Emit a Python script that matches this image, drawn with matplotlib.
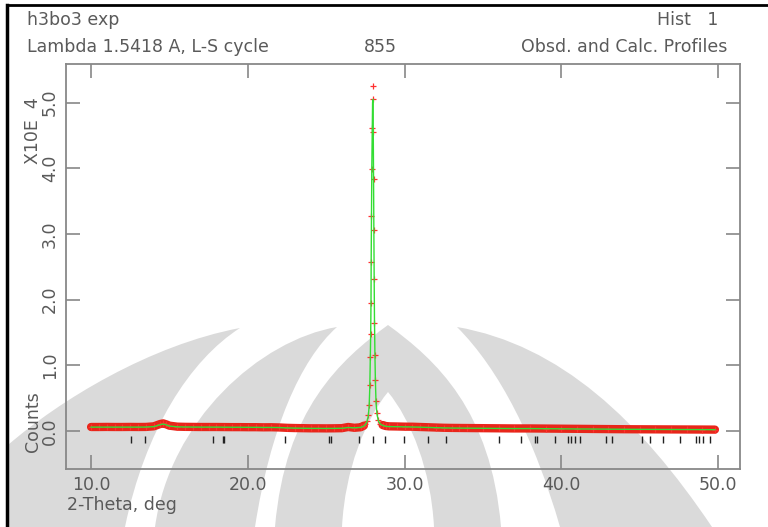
import numpy as np
import matplotlib
matplotlib.use("Agg")
import matplotlib.pyplot as plt
from matplotlib.path import Path
from matplotlib.patches import PathPatch

# observed profile, 2-theta (deg) and counts
two_theta = [10.0, 10.5, 11.0, 11.5, 12.0, 12.5, 13.0, 13.5, 14.0, 14.4, 14.6, 14.8,
             15.0, 15.5, 16.0, 16.5, 17.0, 17.5, 18.0, 18.5, 19.0, 19.5, 20.0, 20.5,
             21.0, 21.5, 22.0, 22.5, 23.0, 23.5, 24.0, 24.5, 25.0, 25.5, 26.0, 26.4,
             26.8, 27.2, 27.40, 27.50, 27.60, 27.68, 27.74, 27.78, 27.81, 27.84, 27.86,
             27.87, 27.89, 27.91, 27.94, 27.96, 27.98, 28.00, 28.02, 28.04, 28.06, 28.08,
             28.11, 28.14, 28.18, 28.24, 28.32, 28.45, 28.60, 28.80, 29.0, 29.5, 30.0,
             30.5, 31.0, 31.5, 32.0, 32.5, 33.0, 33.5, 34.0, 35.0, 36.0, 37.0, 38.0,
             39.0, 40.0, 41.0, 42.0, 43.0, 44.0, 45.0, 46.0, 47.0, 48.0, 49.0, 49.8]
obs_counts = [600, 600, 610, 600, 600, 610, 600, 610, 700, 1050, 1150, 1000,
              800, 650, 620, 610, 600, 600, 600, 590, 580, 580, 570, 570,
              550, 560, 530, 470, 440, 420, 400, 400, 390, 400, 420, 600,
              480, 560, 800, 1000, 1500, 2400, 4000, 7000, 11300, 14800, 19500,
              25800, 32700, 39900, 46100, 52500, 50500, 45600, 38400, 30600, 23200, 16500,
              11500, 7700, 4500, 2800, 1700, 1100, 900, 750, 700, 680, 650,
              640, 600, 560, 520, 480, 460, 450, 440, 420, 400, 380, 380,
              360, 340, 320, 300, 280, 260, 250, 240, 230, 220, 210, 200]
calc_counts = [580, 580, 580, 580, 580, 580, 580, 590, 650, 950, 1050, 920,
               740, 620, 600, 590, 580, 580, 580, 570, 560, 560, 550, 550,
               530, 530, 510, 460, 430, 410, 390, 390, 380, 390, 410, 520,
               470, 540, 750, 950, 1400, 2200, 3700, 6500, 10500, 15000, 20000,
               26000, 33000, 40000, 46000, 50000, 50500, 46500, 39000, 31000, 23500, 17000,
               11500, 7500, 4300, 2600, 1600, 1050, 850, 700, 660, 640, 620,
               600, 570, 530, 500, 460, 440, 430, 420, 400, 380, 360, 360,
               340, 320, 300, 290, 270, 250, 240, 230, 220, 210, 200, 190]
# reflection positions (tick marks under the profile)
refl_pos = [12.55, 13.43, 17.76, 18.40, 18.47, 22.38, 25.20, 25.30, 27.12, 28.01,
            28.76, 29.97, 31.48, 32.65, 36.03, 37.41, 38.33, 38.43, 39.60, 40.45,
            40.62, 40.88, 41.20, 42.85, 43.24, 45.15, 45.66, 46.51, 47.57, 48.60,
            48.81, 49.06, 49.49]
x_ticks = [10, 20, 30, 40, 50]
y_ticks = [0, 1, 2, 3, 4, 5]

tt = np.array(two_theta)
obs = np.array(obs_counts) / 1e4
calc = np.array(calc_counts) / 1e4
# noisy band look only off the main peak
band = np.where((tt > 27.45) & (tt < 28.5), np.nan, obs)

grey = "#5a5a5a"
plt.rcParams["font.family"] = "DejaVu Sans"
fig = plt.figure(figsize=(7.68, 5.27), dpi=100)

# faint logo watermark behind the plot, pixel coords (y from top)
W, H = 768, 527
M, L, C = Path.MOVETO, Path.LINETO, Path.CURVE4


def blob(verts, codes, color):
    v = [(x / W, 1 - y / H) for x, y in verts]
    fig.add_artist(PathPatch(Path(v, codes), transform=fig.transFigure,
                             facecolor=color, edgecolor="none", zorder=-5))


wing = [(240, 328), (150, 345), (60, 400), (8, 445), (8, 527), (125, 527),
        (145, 430), (190, 360), (240, 328)]
wing_codes = [M, C, C, C, L, L, C, C, C]
arc_codes = [M, C, C, C, L, C, C, C]
left_arc = [(337, 327), (260, 340), (170, 420), (155, 527), (255, 527),
            (270, 430), (300, 360), (337, 327)]
right_arc = [(457, 327), (560, 345), (640, 420), (712, 527), (560, 527),
             (535, 440), (500, 370), (457, 327)]
dome = [(388, 325), (340, 360), (285, 410), (275, 527), (501, 527),
        (491, 410), (436, 360), (388, 325)]
inner = [(388, 392), (365, 420), (345, 470), (342, 527), (434, 527),
         (431, 470), (411, 420), (388, 392)]
blob(wing, wing_codes, "#dadada")
blob(left_arc, arc_codes, "#dadada")
blob(right_arc, arc_codes, "#dadada")
blob(dome, arc_codes, "#dadada")
blob(inner, arc_codes, "white")

ax = fig.add_axes([66 / 768, 58 / 527, 674 / 768, 405 / 527])
ax.plot(tt, band, color="#e8261a", lw=6, zorder=2, solid_capstyle="round")
ax.plot(tt, obs, "+", color="#ff3030", ms=4, mew=0.9, zorder=3)
ax.plot(tt, calc, color="#33dd33", lw=1, zorder=4)
ax.vlines(refl_pos, -0.18, -0.08, color="#222222", lw=1, zorder=3)

ax.set_xlim(8.4, 51.4)
ax.set_ylim(-0.58, 5.59)
ax.set_xticks(x_ticks)
ax.set_xticklabels([f"{v:.1f}" for v in x_ticks])
ax.set_yticks(y_ticks)
ax.set_yticklabels([f"{v:.1f}" for v in y_ticks], rotation=90, va="center")
ax.tick_params(direction="in", length=10, width=1.2, color="#888888",
               top=True, right=True, labelcolor=grey, labelsize=12.5, pad=5)
for s in ax.spines.values():
    s.set_color("#888888")
    s.set_linewidth(1.3)
ax.set_facecolor("none")

# header and axis titles
fig.text(27 / 768, 1 - 20 / 527, "h3bo3 exp", color=grey, fontsize=12.5, va="center")
fig.text(27 / 768, 1 - 47 / 527, "Lambda 1.5418 A, L-S cycle", color=grey,
         fontsize=12.5, va="center")
fig.text(397 / 768, 1 - 47 / 527, "855", color=grey, fontsize=12.5, va="center", ha="right")
fig.text(718 / 768, 1 - 20 / 527, "Hist   1", color=grey, fontsize=12.5, va="center", ha="right")
fig.text(727 / 768, 1 - 47 / 527, "Obsd. and Calc. Profiles", color=grey,
         fontsize=12.5, va="center", ha="right")
fig.text(33 / 768, 1 - 131 / 527, "X10E  4", color=grey, fontsize=12.5,
         rotation=90, va="center", ha="center")
fig.text(33 / 768, 1 - 422 / 527, "Counts", color=grey, fontsize=12.5,
         rotation=90, va="center", ha="center")
fig.text(67 / 768, 1 - 505 / 527, "2-Theta, deg", color=grey, fontsize=12.5, va="center")

# outer frame (left and top edges)
fig.add_artist(plt.Line2D([7 / 768, 7 / 768], [0, 1 - 5 / 527], color="black", lw=2.5))
fig.add_artist(plt.Line2D([7 / 768, 1], [1 - 5 / 527, 1 - 5 / 527], color="black", lw=2))

fig.savefig("out.png", dpi=100)
